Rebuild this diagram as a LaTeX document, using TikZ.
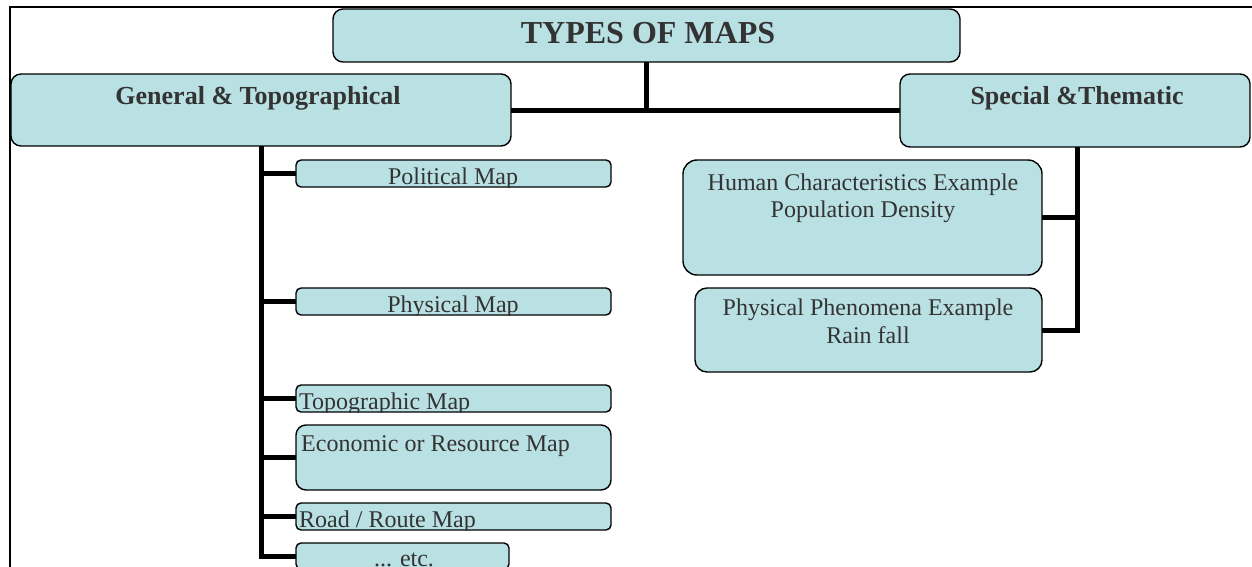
\documentclass[tikz,border=0pt]{standalone}
\usepackage{fontspec}
\setmainfont{Liberation Serif}
\definecolor{boxblue}{RGB}{185,224,227}
\definecolor{txtgray}{RGB}{51,51,51}
\begin{document}
\begin{tikzpicture}[x=1pt,y=-1pt,
  box/.style={draw=black, line width=1.4pt, fill=boxblue, rounded corners=#1, inner sep=0pt, outer sep=0pt},
  box/.default=8pt,
  txt/.style={text=txtgray, inner sep=0pt, font=\fontsize{24}{27}\selectfont},
  btxt/.style={text=txtgray, inner sep=0pt, font=\fontsize{26}{30}\selectfont\bfseries},
  ttxt/.style={text=txtgray, inner sep=0pt, font=\fontsize{32}{36}\selectfont\bfseries},
  conn/.style={line width=5pt, draw=black},
  frameline/.style={line width=1.6pt, draw=black}]
\useasboundingbox (0,0) rectangle (1252,567);
\draw[frameline] (10,567) -- (10,7) -- (1252,7);

\coordinate (j) at (646.5,111);
\coordinate (rs) at (1077,147);

% boxes
\node[box=10pt, minimum width=627pt, minimum height=53pt] (title) at (646.5,35.5) {};
\node[box=10pt, minimum width=500pt, minimum height=72pt] (gen) at (261,110) {};
\node[box=10pt, minimum width=350pt, minimum height=73pt] (sp) at (1075,110.5) {};
\node[box=5pt, minimum width=315pt, minimum height=27pt] (pol) at (453.5,173.5) {};
\node[box=5pt, minimum width=315pt, minimum height=27pt] (phys) at (453.5,301.5) {};
\node[box=5pt, minimum width=315pt, minimum height=27pt] (topo) at (453.5,398.5) {};
\node[box=10pt, minimum width=315pt, minimum height=65pt] (eco) at (453.5,457.5) {};
\node[box=5pt, minimum width=315pt, minimum height=27pt] (road) at (453.5,516.5) {};
\node[box=5pt, minimum width=213pt, minimum height=26pt] (etc) at (402.5,556) {};
\node[box=14pt, minimum width=359pt, minimum height=115pt] (hum) at (862.5,217.5) {};
\node[box=12pt, minimum width=347pt, minimum height=84pt] (phen) at (868.5,330) {};

% texts, clipped to their boxes
\node[ttxt, anchor=base] (titleT) at (648,44) {TYPES OF MAPS};
\node[btxt, anchor=base] (genT) at (258,105) {General \& Topographical};
\node[btxt, anchor=base] (spT) at (1077,105) {Special \&Thematic};
\begin{scope}
  \clip[rounded corners=5pt] (pol.south west) rectangle (pol.north east);
  \node[txt, anchor=base] (polT) at (453,184) {Political Map};
\end{scope}
\begin{scope}
  \clip[rounded corners=5pt] (phys.south west) rectangle (phys.north east);
  \node[txt, anchor=base] (physT) at (453,312) {Physical Map};
\end{scope}
\begin{scope}
  \clip[rounded corners=5pt] (topo.south west) rectangle (topo.north east);
  \node[txt, anchor=base west] (topoT) at (299,409) {Topographic Map};
\end{scope}
\node[txt, anchor=base west] (ecoT) at (301,451) {Economic or Resource Map};
\begin{scope}
  \clip[rounded corners=5pt] (road.south west) rectangle (road.north east);
  \node[txt, anchor=base west] (roadT) at (299,527) {Road / Route Map};
\end{scope}
\node[txt, anchor=base] (etcT) at (404,566) {... etc.};
\node[txt, anchor=base] (humT1) at (863,190) {Human Characteristics Example};
\node[txt, anchor=base] (humT2) at (863,217) {Population Density};
\node[txt, anchor=base] (phenT1) at (868,315) {Physical Phenomena Example};
\node[txt, anchor=base] (phenT2) at (868,343) {Rain fall};

% connectors
\draw[conn] (title.south) -- (j);
\draw[conn] (gen.east |- j) -- (sp.west |- j);
\draw[conn] (gen.south) |- (etc.west);
\foreach \n in {pol,phys,topo,eco,road}{\draw[conn] (gen.south |- \n.west) -- (\n.west);}
\draw[conn] (rs) |- (phen.east);
\draw[conn] (rs |- hum.east) -- (hum.east);
\end{tikzpicture}
\end{document}
